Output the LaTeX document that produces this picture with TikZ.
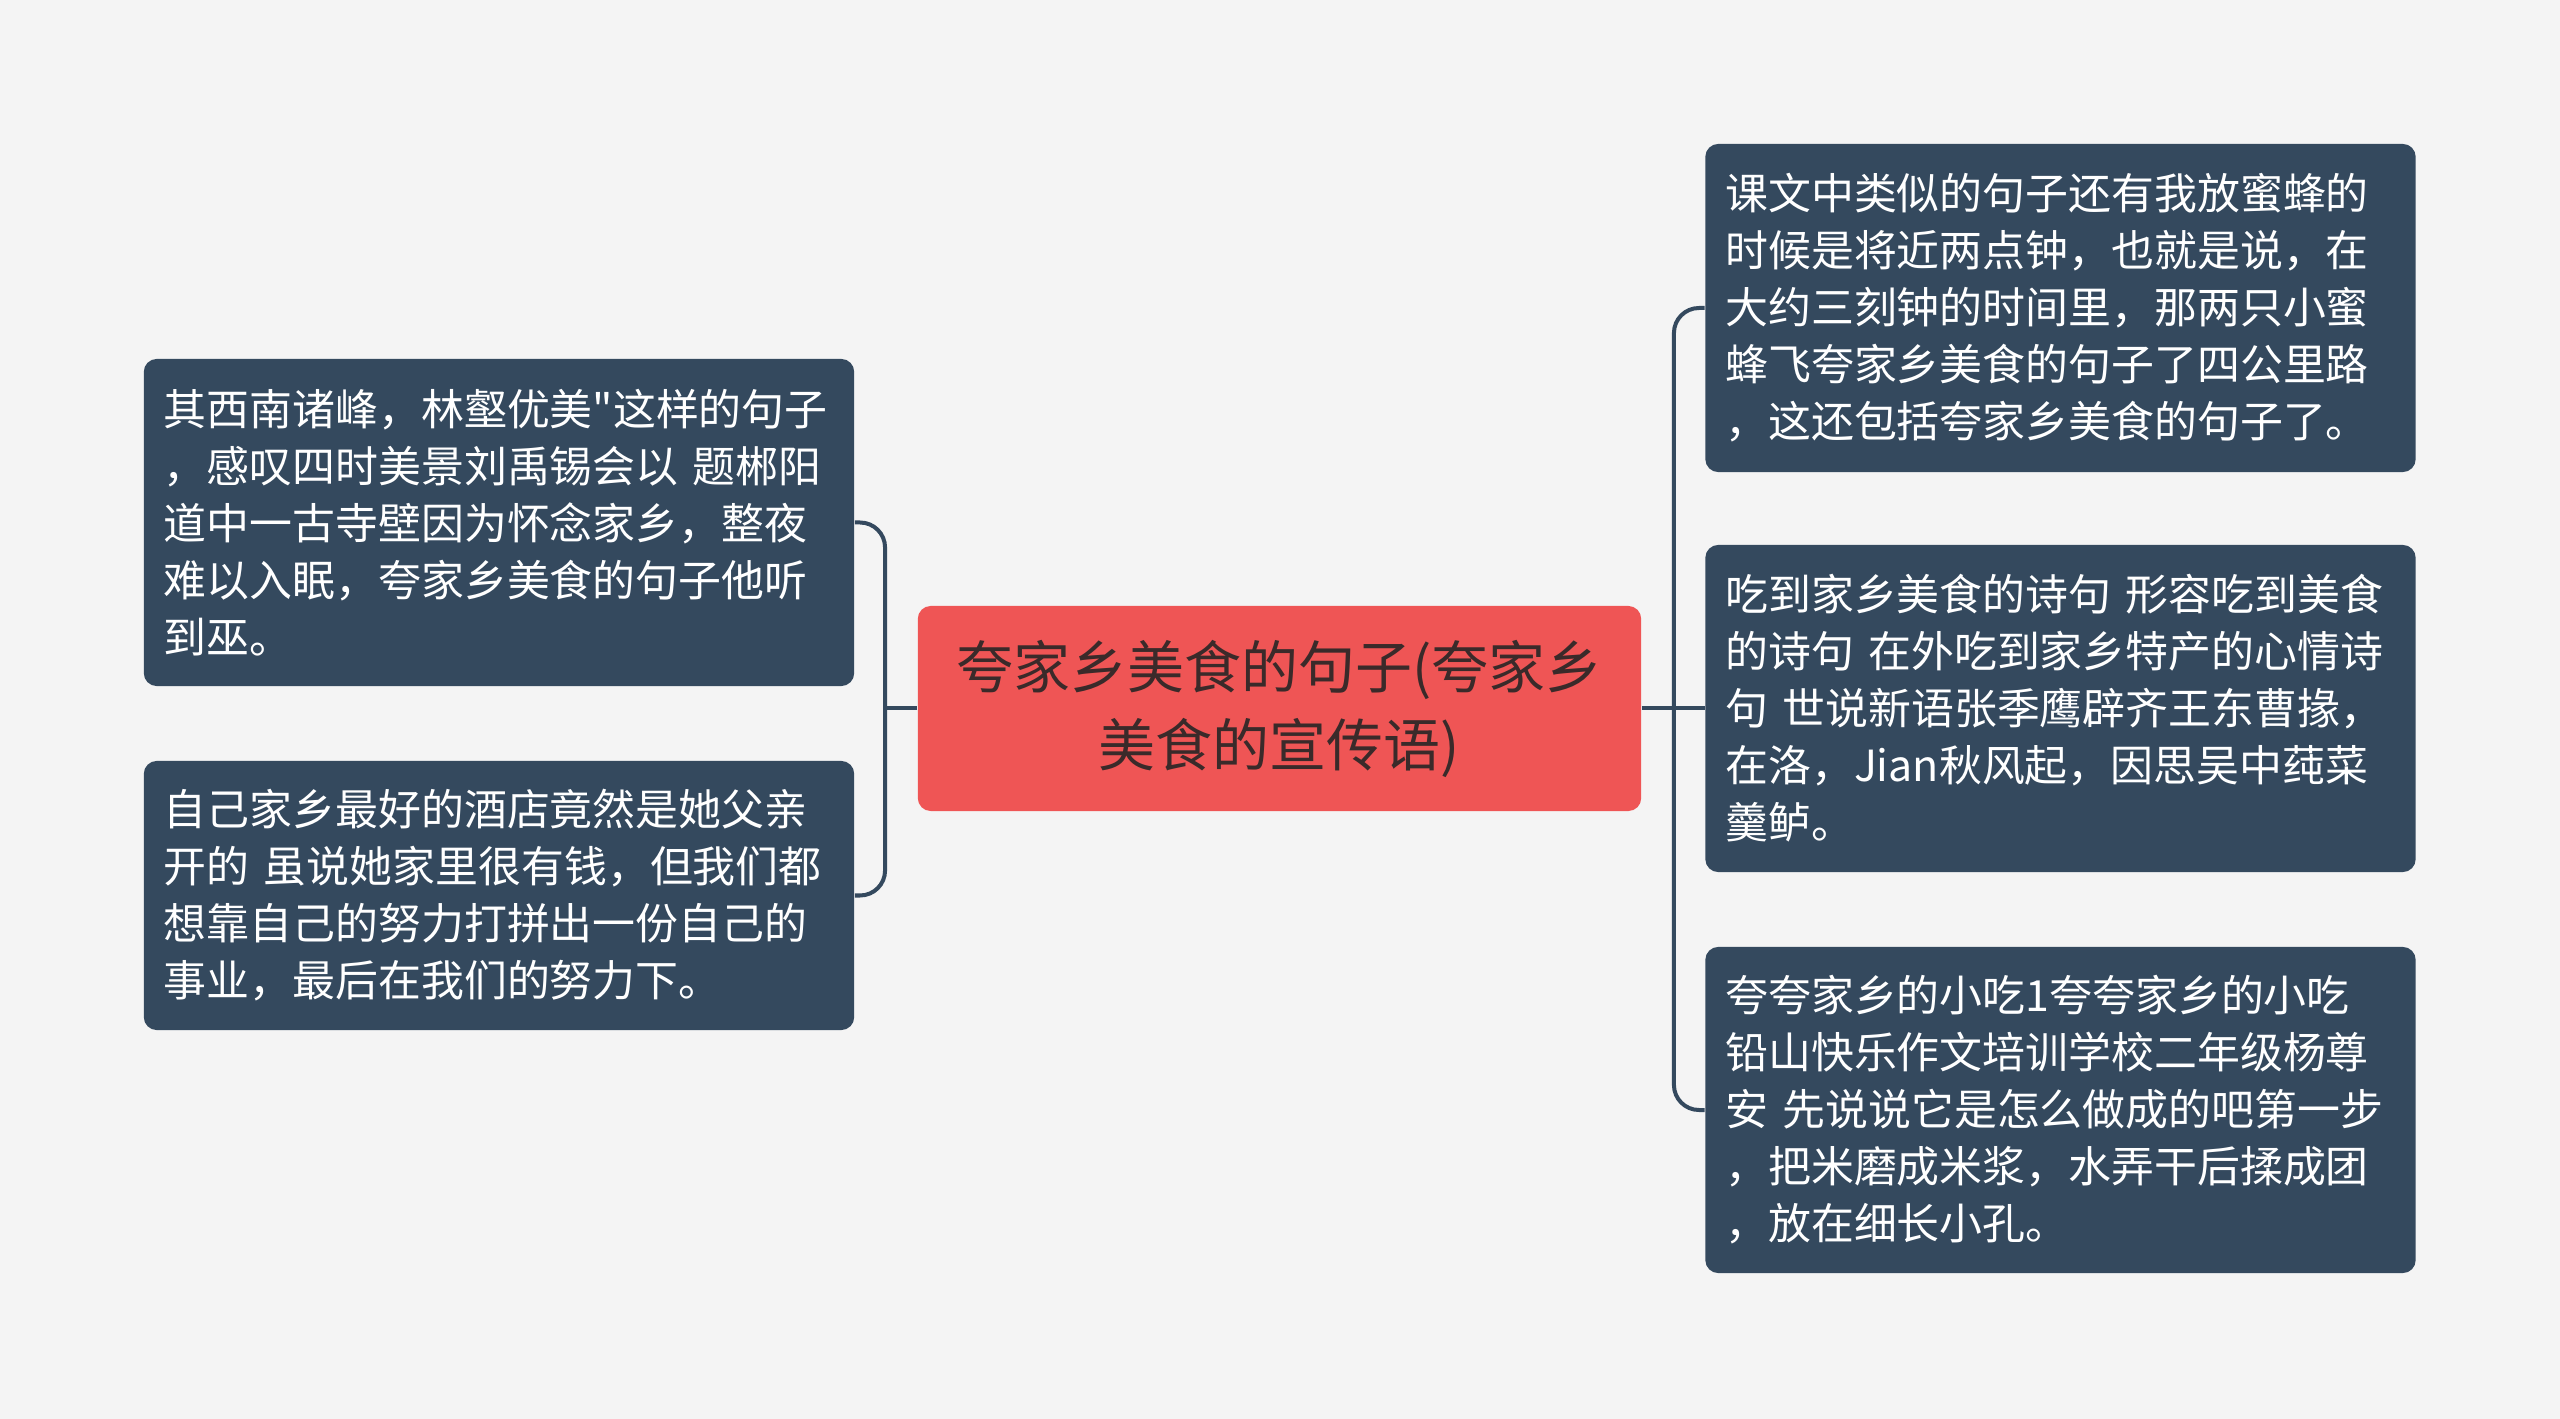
\documentclass[tikz,border=0pt]{standalone}
\usepackage{fontspec}
\setmainfont{Noto Sans CJK SC}[Ligatures=TeXOff]
\usepackage{tikz}
\definecolor{bladfarve}{HTML}{34495E}
\definecolor{hovedfarve}{HTML}{EF5555}
\definecolor{hovedtekst}{HTML}{3A2A2A}
\definecolor{baggrund}{HTML}{F4F4F4}
\tikzset{
    %Define style for the centre box
    hoved/.style={
           rectangle,
           rounded corners=0.13cm,
           fill=hovedfarve,
           text=hovedtekst,
           minimum width=7.23cm,
           minimum height=2.05cm,
           align=center,
           font=\fontsize{16.2pt}{22.2pt}\selectfont},
    %Define style for the text boxes
    blad/.style={
           rectangle,
           rounded corners=0.13cm,
           fill=bladfarve,
           text=white,
           text width=6.7cm,
           inner xsep=0.2cm,
           align=left,
           font=\fontsize{12.2pt}{16.2pt}\selectfont},
    % Define branch style
    gren/.style={
           draw=bladfarve,
           line width=0.04cm,
           rounded corners=0.25cm}
}
\begin{document}
\begin{tikzpicture}[x=0.01cm,y=-0.01cm]
\fill[baggrund] (0,0) rectangle (2560,1419);
\useasboundingbox (0,0) rectangle (2560,1419);
\node[hoved](1) at (1279.5,708.5){夸家乡美食的句子(夸家乡\\美食的宣传语)};
\node[blad, minimum height=3.27cm](2) at (499,522.5){其西南诸峰，林壑优美"这样的句子\\，感叹四时美景刘禹锡会以 题郴阳\\道中一古寺壁因为怀念家乡，整夜\\难以入眠，夸家乡美食的句子他听\\到巫。};
\node[blad, minimum height=2.69cm](3) at (499,895.5){自己家乡最好的酒店竟然是她父亲\\开的 虽说她家里很有钱，但我们都\\想靠自己的努力打拼出一份自己的\\事业，最后在我们的努力下。};
\node[blad, minimum height=3.28cm](4) at (2060.5,308){课文中类似的句子还有我放蜜蜂的\\时候是将近两点钟，也就是说，在\\大约三刻钟的时间里，那两只小蜜\\蜂飞夸家乡美食的句子了四公里路\\，这还包括夸家乡美食的句子了。};
\node[blad, minimum height=3.27cm](5) at (2060.5,708.5){吃到家乡美食的诗句 形容吃到美食\\的诗句 在外吃到家乡特产的心情诗\\句 世说新语张季鹰辟齐王东曹掾，\\在洛，Jian秋风起，因思吴中莼菜\\羹鲈。};
\node[blad, minimum height=3.26cm](6) at (2060.5,1110){夸夸家乡的小吃1夸夸家乡的小吃\\铅山快乐作文培训学校二年级杨尊\\安 先说说它是怎么做成的吧第一步\\，把米磨成米浆，水弄干后揉成团\\，放在细长小孔。};
\coordinate (v) at ([xshift=-0.32cm]1.west);
\coordinate (h) at ([xshift=0.32cm]1.east);
\draw[gren] (1.west) -- (v);
\draw[gren] (2.east) -- (v |- 2.east) -- (v |- 3.east) -- (3.east);
\draw[gren] (1.east) -- (5.west);
\draw[gren] (4.west) -- (h |- 4.west) -- (h |- 6.west) -- (6.west);
\end{tikzpicture}
\end{document}
